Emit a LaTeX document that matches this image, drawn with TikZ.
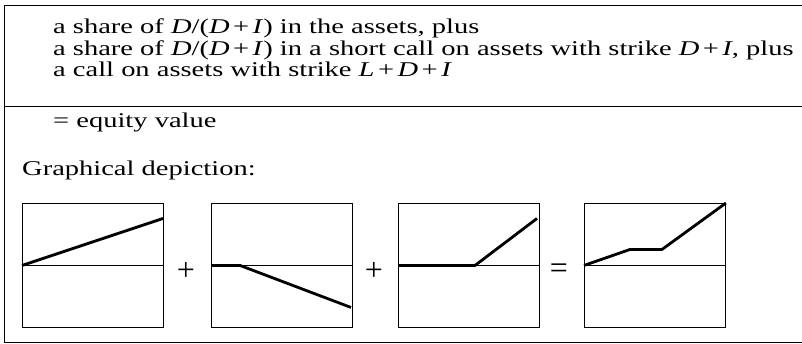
\documentclass[tikz,border=0pt]{standalone}
\usepackage{fontspec}
\setmainfont{Liberation Serif}[FakeStretch=1.357]
\newfontfamily\opfont{Liberation Serif}
\usepackage{tikz}
\usetikzlibrary{positioning}

\begin{document}
\begin{tikzpicture}[x=1pt, y=-1pt, font=\fontsize{21}{21.5}\selectfont,
  txt/.style={anchor=base west, inner sep=0pt},
  panel/.style={draw, line width=0.9pt, anchor=north west, inner sep=0pt, minimum width=141pt, minimum height=124pt},
  op/.style={inner sep=0pt, font=\opfont\fontsize{32}{32}\selectfont},
  payoff/.style={line width=2.8pt}]
  \useasboundingbox (0,0) rectangle (802,343);
  \draw[line width=1pt] (802,5) -- (4,5) -- (4,342) -- (802,342);
  \draw[line width=1pt] (4,106) -- (802,106);

  \node[txt] (line1) at (53,33) {a share of \textit{D}/(\textit{D}\,+\,\textit{I}) in the assets, plus};
  \node[txt] (line2) at (53,55) {a share of \textit{D}/(\textit{D}\,+\,\textit{I}) in a short call on assets with strike \textit{D}\,+\,\textit{I}, plus};
  \node[txt] (line3) at (53,76) {a call on assets with strike \textit{L}\,+\,\textit{D}\,+\,\textit{I}};
  \node[txt] (total) at (53,127) {= equity value};
  \node[txt] (graph) at (22,175) {Graphical depiction:};

  \node[panel] (asset) at (22,203) {};
  \node[panel] (short) at (211,203) {};
  \node[panel] (call) at (398,203) {};
  \node[panel] (equity) at (584,203) {};

  \node[op] (plusA) at (186,271) {+};
  \node[op] (plusB) at (374,271) {+};
  \node[op] (eq) at (559,271) {=};

  \draw[line width=0.9pt] (asset.west) -- (asset.east);
  \draw[line width=0.9pt] (short.west) -- (short.east);
  \draw[line width=0.9pt] (call.west) -- (call.east);
  \draw[line width=0.9pt] (equity.west) -- (equity.east);

  \draw[payoff] (asset.west) -- ++(141,-47);
  \draw[payoff] (short.west) -- ++(29,0) -- ++(111,42);
  \draw[payoff] (call.west) -- ++(77,0) -- ++(62,-47);
  \draw[payoff] (equity.west) -- ++(46,-16) -- ++(32,0) -- (equity.north east);
\end{tikzpicture}
\end{document}
